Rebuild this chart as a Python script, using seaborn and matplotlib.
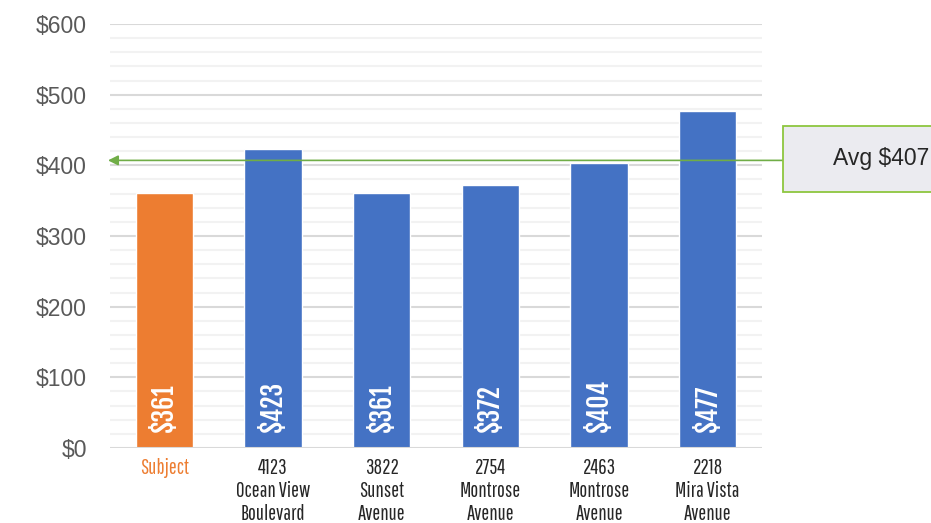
import matplotlib
matplotlib.use("Agg")
import matplotlib.pyplot as plt
from matplotlib.patches import Rectangle
import seaborn as sns
import pandas as pd

categories = ["Subject", "4123\nOcean View\nBoulevard", "3822\nSunset\nAvenue",
              "2754\nMontrose\nAvenue", "2463\nMontrose\nAvenue", "2218\nMira Vista\nAvenue"]
values = [361, 423, 361, 372, 404, 477]
average = 407
y_ticks = [0, 100, 200, 300, 400, 500, 600]
tick_labels = ["$0", "$100", "$200", "$300", "$400", "$500", "$600"]

orange = "#ED7D31"
blue = "#4472C4"
bar_colors = [orange] + [blue] * (len(categories) - 1)
cat_font = ["Pathway Gothic One", "DejaVu Sans"]
value_font = ["Fjalla One", "DejaVu Sans"]
plain_font = ["Liberation Sans", "DejaVu Sans"]

sns.set_theme(style="white")
plt.rcParams["font.family"] = plain_font

fig = plt.figure(figsize=(9.31, 5.23), dpi=100)
ax = fig.add_axes([110 / 931, 1 - 448 / 523, 652 / 931, 424 / 523])

df = pd.DataFrame({"cat": categories, "val": values})
sns.barplot(data=df, x="cat", y="val", hue="cat", palette=bar_colors,
            width=0.525, legend=False, ax=ax, saturation=1, zorder=3)

ax.set_ylim(0, 600)
ax.set_xlim(-0.5, len(categories) - 0.5)

# minor and major gridlines
for v in range(20, 600, 20):
    if v % 100:
        ax.axhline(v, color="#F2F2F2", lw=1.5, zorder=1)
for v in y_ticks[1:]:
    ax.axhline(v, color="#D9D9D9", lw=1.5, zorder=1)
ax.axhline(0, color="#D9D9D9", lw=1.5, zorder=4)

for s in ax.spines.values():
    s.set_visible(False)

ax.set_yticks(y_ticks)
ax.set_yticklabels(tick_labels, fontsize=16.5, color="#595959", family=plain_font)
ax.tick_params(axis="y", length=0, pad=16.5)
ax.set_xlabel("")
ax.set_ylabel("")

ax.set_xticks(range(len(categories)))
ax.set_xticklabels(categories, fontsize=15, family=cat_font, color="#262626",
                   linespacing=1.2)
ax.tick_params(axis="x", length=0, pad=7)
ax.get_xticklabels()[0].set_color(orange)

# value labels inside bars
for i, v in enumerate(values):
    ax.text(i, 22, f"${v}", rotation=90, ha="center", va="bottom",
            color="white", fontsize=18.5, family=value_font, zorder=5)

# average callout
box_left, box_bottom, box_top = 783, 523 - 192, 523 - 126
fig.patches.append(Rectangle((box_left, box_bottom), 200, box_top - box_bottom,
                             transform=None, facecolor="#EBEBF0",
                             edgecolor="#8DC63F", lw=1.3, zorder=2))
fig.text(881 / 931, (box_bottom + box_top) / 2 / 523, f"Avg ${average}",
         ha="center", va="center", fontsize=16.5, color="#262626", family=plain_font)
y_avg_px = ax.transData.transform((0, average))[1]
ax.annotate("", xy=(108, y_avg_px), xycoords="figure pixels",
            xytext=(box_left, y_avg_px), textcoords="figure pixels",
            arrowprops=dict(arrowstyle="-|>", color="#70AD47", lw=1.2,
                            mutation_scale=15, shrinkA=0, shrinkB=0),
            zorder=6, annotation_clip=False)

fig.savefig("out.png", dpi=100)
